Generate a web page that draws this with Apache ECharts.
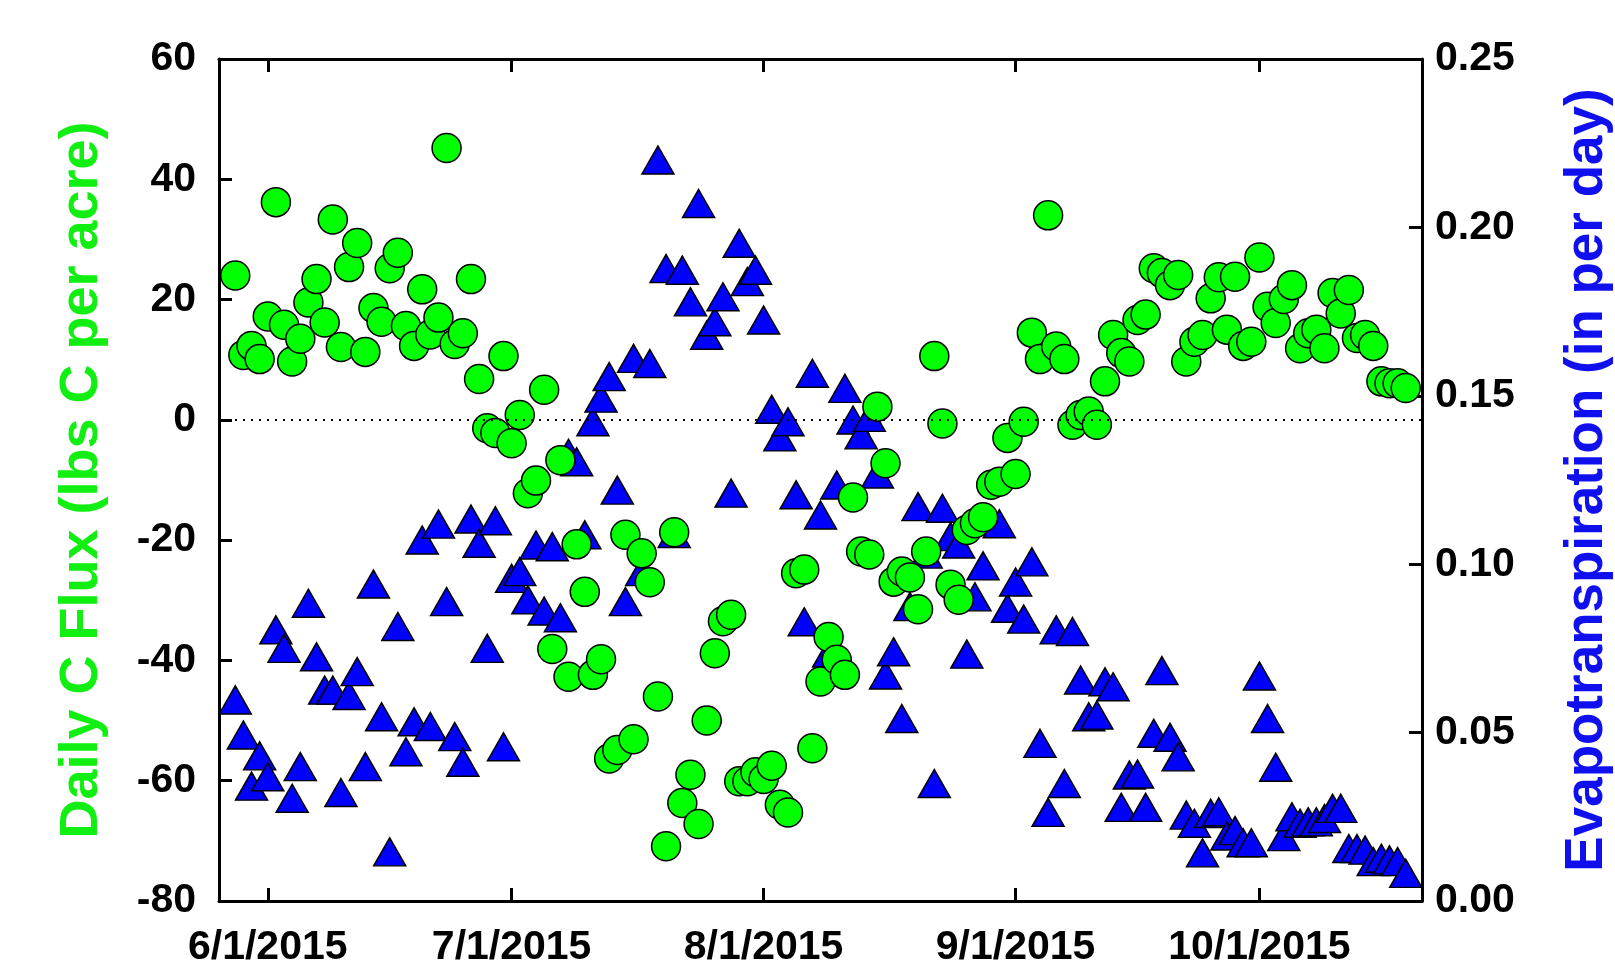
<!DOCTYPE html>
<html>
<head>
<meta charset="utf-8">
<script src="https://cdn.jsdelivr.net/npm/echarts@6/dist/echarts.min.js"></script>
<style>
html,body{margin:0;padding:0;background:#fff;}
#chart{width:1615px;height:962px;}
</style>
</head>
<body>
<div id="chart"></div>
<script>
// Daily records from 2015-05-28 to 2015-10-19
const firstDate = [2015, 4, 28];
const dayCount = 145;

// Daily C Flux (lbs C per acre) - green circles, left axis
const cFlux = [
  24.0, 10.8, 12.3, 10.1,
  17.2, 36.2, 15.8, 9.7, 13.5, 19.5, 23.4, 16.2, 33.3, 12.1,
  25.4, 29.4, 11.3, 18.6, 16.3, 25.2, 27.8, 15.6, 12.3, 21.7,
  14.2, 17.0, 45.2, 12.6, 14.4, 23.4, 6.8, -1.4, -2.2, 10.6,
  -3.9, 0.8, -12.2, -10.1, 5.0, -38.1, -6.7, -42.7, -20.7, -28.6,
  -42.4, -39.8, -56.3, -54.9, -19.1, -53.1, -22.2, -27.0, -46.0, -70.9,
  -18.7, -63.7, -59.0, -67.2, -50.0, -38.8, -33.5, -32.4, -60.1, -60.1, -58.6,
  -59.7, -57.5, -64.0, -65.3, -25.5, -24.9, -54.6, -43.5, -36.1, -39.9,
  -42.4, -12.9, -21.9, -22.4, 2.2, -7.2, -26.9, -25.2, -26.2, -31.5,
  -21.9, 10.6, -0.6, -27.4, -29.9, -18.3, -17.2, -16.2, -10.8, -10.3, -3.0,
  -9.0, -0.3, 14.5, 10.1, 34.0, 12.2, 10.1, -0.8, 0.8, 1.4,
  -0.8, 6.4, 14.1, 11.1, 9.7, 16.6, 17.5, 25.2, 24.4, 22.4,
  24.1, 9.7, 13.0, 14.1, 20.2, 23.7, 15.0, 23.8, 12.3, 13.0,
  27.0, 18.8, 16.1, 20.1, 22.4, 11.9, 14.4, 15.0, 11.9, 21.1,
  17.7, 21.6, 13.6, 14.1, 12.3, 6.4, 6.1, 6.1, 5.3
];

// Evapotranspiration (in per day) - blue triangles, right axis
const evapo = [
  0.0597, 0.0493, 0.0341, 0.0431,
  0.0369, 0.0805, 0.0750, 0.0305, 0.0399, 0.0884, 0.0725, 0.0626, 0.0626, 0.0322,
  0.0610, 0.0681, 0.0399, 0.0941, 0.0547, 0.0146, 0.0815, 0.0443, 0.0532, 0.1072,
  0.0518, 0.1119, 0.0889, 0.0488, 0.0412, 0.1134, 0.1062, 0.0750, 0.1129, 0.0458,
  0.0958, 0.0978, 0.0894, 0.1057, 0.0861, 0.1052, 0.0841, 0.1329, 0.1304, 0.1087,
  0.1423, 0.1493, 0.1557, 0.1220, 0.0889, 0.1611, 0.0978, 0.1596, 0.2200, 0.1878,
  0.1091, 0.1873, 0.1779, 0.2071, 0.1680, 0.1720, 0.1794, 0.1211, 0.1953, 0.1839, 0.1873,
  0.1725, 0.1460, 0.1378, 0.1423, 0.1206, 0.0829, 0.1567, 0.1146, 0.0736, 0.1235,
  0.1522, 0.1428, 0.1384, 0.1436, 0.1268, 0.0671, 0.0740, 0.0542, 0.0874, 0.1171,
  0.1030, 0.0349, 0.1166, 0.1082, 0.1060, 0.0733, 0.0903, 0.0995, 0.1131, 0.1120, 0.0869,
  0.0947, 0.0837, 0.1007, 0.0468, 0.0263, 0.0805, 0.0349, 0.0800, 0.0656, 0.0547,
  0.0552, 0.0651, 0.0636, 0.0278, 0.0374, 0.0377, 0.0278, 0.0498, 0.0684, 0.0486,
  0.0428, 0.0255, 0.0231, 0.0143, 0.0260, 0.0265, 0.0193, 0.0209, 0.0173, 0.0173,
  0.0668, 0.0542, 0.0397, 0.0191, 0.0250, 0.0231, 0.0235, 0.0235, 0.0245, 0.0275,
  0.0275, 0.0156, 0.0156, 0.0151, 0.0117, 0.0127, 0.0122, 0.0117, 0.0082
];

// Axis settings / tick labels
const xTickDates = ['2015-06-01', '2015-07-01', '2015-08-01', '2015-09-01', '2015-10-01'];
const xMinDate = '2015-05-26';
const xMaxDate = '2015-10-21';
const leftTicks = [-80, -60, -40, -20, 0, 20, 40, 60];
const rightTicks = [0.00, 0.05, 0.10, 0.15, 0.20, 0.25];
const leftTitle = 'Daily C Flux (lbs C per acre)';
const rightTitle = 'Evapotranspiration (in per day)';

function ts(s) { const p = s.split('-').map(Number); return new Date(p[0], p[1] - 1, p[2]).getTime(); }
const dates = [];
for (let i = 0; i < dayCount; i++) {
  dates.push(new Date(firstDate[0], firstDate[1], firstDate[2] + i).getTime());
}
const tickTs = xTickDates.map(ts);
function fmtDate(v) { const d = new Date(v); return (d.getMonth() + 1) + '/' + d.getDate() + '/' + d.getFullYear(); }

const FONT = '"Liberation Sans", Arial, sans-serif';
const chart = echarts.init(document.getElementById('chart'), null, { renderer: 'canvas' });

const xCommon = {
  type: 'value',
  min: ts(xMinDate),
  max: ts(xMaxDate),
  scale: true,
  splitLine: { show: false },
  axisLine: { show: true, onZero: false, lineStyle: { color: '#000', width: 3 } },
  axisTick: { show: true, inside: true, length: 13, lineStyle: { color: '#000', width: 3 }, customValues: tickTs }
};

chart.setOption({
  animation: false,
  backgroundColor: '#fff',
  grid: { left: 219, right: 193, top: 59, bottom: 61, containLabel: false, outerBoundsMode: 'none' },
  xAxis: [
    Object.assign({}, xCommon, {
      position: 'bottom',
      axisLabel: {
        show: true, customValues: tickTs, formatter: fmtDate,
        fontFamily: FONT, fontWeight: 'bold', fontSize: 41, color: '#000', margin: 26
      }
    }),
    Object.assign({}, xCommon, {
      position: 'top',
      axisLabel: { show: false }
    })
  ],
  yAxis: [
    {
      type: 'value', position: 'left', min: leftTicks[0], max: leftTicks[leftTicks.length - 1], interval: 20,
      splitLine: { show: false },
      axisLine: { show: true, onZero: false, lineStyle: { color: '#000', width: 3 } },
      axisTick: { show: true, inside: true, length: 13, lineStyle: { color: '#000', width: 3 } },
      axisLabel: { fontFamily: FONT, fontWeight: 'bold', fontSize: 41, color: '#000', margin: 23 },
      name: leftTitle, nameLocation: 'middle', nameRotate: 90, nameGap: 110, nameMoveOverlap: false,
      nameTextStyle: { fontFamily: FONT, fontWeight: 'bold', fontSize: 54, color: '#11ee11' }
    },
    {
      type: 'value', position: 'right', min: rightTicks[0], max: rightTicks[rightTicks.length - 1], interval: 0.05,
      splitLine: { show: false },
      axisLine: { show: true, onZero: false, lineStyle: { color: '#000', width: 3 } },
      axisTick: { show: true, inside: true, length: 13, lineStyle: { color: '#000', width: 3 } },
      axisLabel: { fontFamily: FONT, fontWeight: 'bold', fontSize: 41, color: '#000', margin: 13,
        formatter: v => v.toFixed(2) },
      name: rightTitle, nameLocation: 'middle', nameRotate: 90, nameGap: 139, nameMoveOverlap: false,
      nameTextStyle: { fontFamily: FONT, fontWeight: 'bold', fontSize: 53, color: '#1010ee' }
    }
  ],
  series: [
    {
      type: 'scatter', name: 'zero', xAxisIndex: 0, yAxisIndex: 0, data: [], z: 1, silent: true,
      markLine: {
        silent: true, symbol: ['none', 'none'], label: { show: false },
        lineStyle: { color: '#000', type: [2, 6], width: 2 },
        data: [{ yAxis: 0 }]
      }
    },
    {
      type: 'scatter', name: rightTitle, xAxisIndex: 0, yAxisIndex: 1, z: 2,
      symbol: 'triangle', symbolSize: [32, 28],
      itemStyle: { color: '#0000ff', borderColor: '#000', borderWidth: 1.5, opacity: 1 },
      data: dates.map((d, i) => [d, evapo[i]])
    },
    {
      type: 'scatter', name: leftTitle, xAxisIndex: 0, yAxisIndex: 0, z: 3,
      symbol: 'circle', symbolSize: 29,
      itemStyle: { color: '#00ff00', borderColor: '#000', borderWidth: 1.5, opacity: 1 },
      data: dates.map((d, i) => [d, cFlux[i]])
    }
  ]
});
</script>
</body>
</html>
